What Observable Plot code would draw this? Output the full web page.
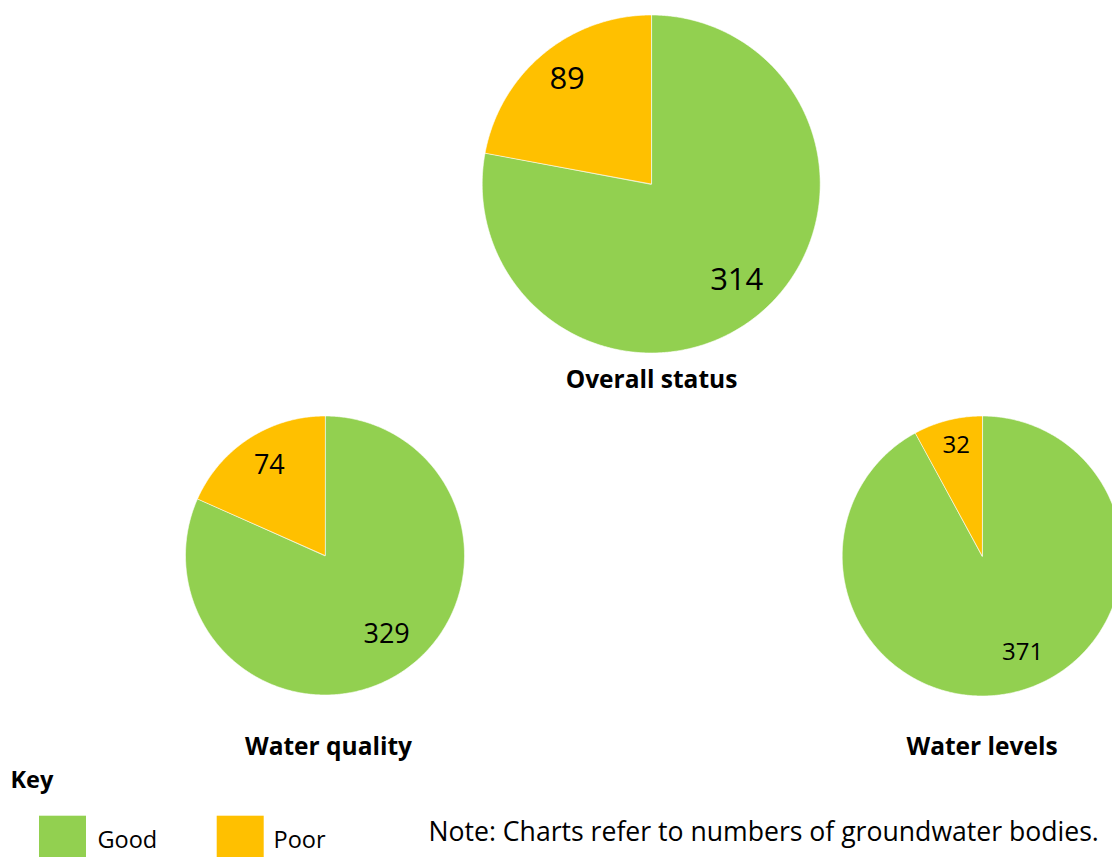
<!DOCTYPE html>
<html>
<head>
<meta charset="utf-8">
<script src="https://cdn.jsdelivr.net/npm/d3@7"></script>
<script src="https://cdn.jsdelivr.net/npm/@observablehq/plot@0.6"></script>
<style>
  html, body { margin: 0; padding: 0; background: #fff; }
  #chart svg { display: block; }
</style>
</head>
<body>
<div id="chart"></div>
<script>
// ---- Data ----
const categories = ["Good", "Poor"];
const chartNames = ["Overall status", "Water quality", "Water levels"];
const goodValues = [314, 329, 371];
const poorValues = [89, 74, 32];
const colors = ["#92D050", "#FFC000"];
const keyTitle = "Key";
const noteText = "Note: Charts refer to numbers of groundwater bodies.";

// ---- Layout (pixels) ----
const W = 1112, H = 857;
const layout = [
  {cx: 650.7, cy: 183.5, r: 169, labelSize: 31, titleX: 651, titleY: 380},
  {cx: 324.5, cy: 555, r: 139.5, labelSize: 27, titleX: 328, titleY: 746.5},
  {cx: 981.7, cy: 555.5, r: 140, labelSize: 24, titleX: 981.5, titleY: 746.5}
];
// label placement per chart: [good, poor] as [radius fraction, angle shift in degrees]
const labelPlacement = [
  [[0.76, -2], [0.795, 1]],
  [[0.717, -5], [0.758, 1.3]],
  [[0.747, -8.4], [0.81, 1]]
];
const font = "'Open Sans', Lato, sans-serif";

// ---- Build wedges from data ----
const wedgePts = [];
const labels = [];
const titles = [];
chartNames.forEach((name, i) => {
  const L = layout[i];
  const vals = [goodValues[i], poorValues[i]];
  const total = d3.sum(vals);
  let a0 = 0;
  vals.forEach((v, j) => {
    const a1 = a0 + (v / total) * 2 * Math.PI;
    const id = name + "-" + categories[j];
    wedgePts.push({id, cat: categories[j], x: L.cx, y: L.cy});
    const n = Math.max(2, Math.ceil((a1 - a0) / (Math.PI / 360)));
    for (let k = 0; k <= n; k++) {
      const a = a0 + (a1 - a0) * k / n;
      wedgePts.push({id, cat: categories[j], x: L.cx + L.r * Math.sin(a), y: L.cy - L.r * Math.cos(a)});
    }
    const [f, da] = labelPlacement[i][j];
    const am = (a0 + a1) / 2 + da * Math.PI / 180;
    labels.push({text: String(v), x: L.cx + f * L.r * Math.sin(am), y: L.cy - f * L.r * Math.cos(am), fs: L.labelSize});
    a0 = a1;
  });
  titles.push({text: name, x: L.titleX, y: L.titleY});
});

// Legend
const legendItems = categories.map((c, j) => ({
  cat: c,
  x1: 39 + j * 177.7, x2: 86 + j * 177.7, y1: 815.7, y2: 870,
  tx: 97 + j * 176, ty: 839.5
}));

const plot = Plot.plot({
  width: W,
  height: H,
  margin: 0,
  x: {domain: [0, W], range: [0, W], axis: null},
  y: {domain: [0, H], range: [0, H], axis: null},
  color: {domain: categories, range: colors},
  style: {fontFamily: font, background: "#fff", color: "#000"},
  marks: [
    Plot.line(wedgePts, {x: "x", y: "y", z: "id", fill: "cat", stroke: "#fff", strokeWidth: 0.6, curve: "linear-closed"}),
    Plot.text(labels, {x: "x", y: "y", text: "text", fontSize: "fs", fill: "#000", fontFamily: font}),
    Plot.text(titles, {x: "x", y: "y", text: "text", fontSize: 24.5, fontWeight: "bold", fill: "#000", fontFamily: font}),
    Plot.text([keyTitle], {x: () => 10, y: () => 779.5, text: d => d, textAnchor: "start", fontSize: 23.5, fontWeight: "bold", fill: "#000", fontFamily: font}),
    Plot.rect(legendItems, {x1: "x1", x2: "x2", y1: "y1", y2: "y2", fill: "cat"}),
    Plot.text(legendItems, {x: "tx", y: "ty", text: "cat", textAnchor: "start", fontSize: 23.5, fill: "#000", fontFamily: font}),
    Plot.text([noteText], {x: () => 428, y: () => 831.5, text: d => d, textAnchor: "start", fontSize: 26.6, fill: "#000", fontFamily: font})
  ]
});
document.getElementById("chart").appendChild(plot);
</script>
</body>
</html>
